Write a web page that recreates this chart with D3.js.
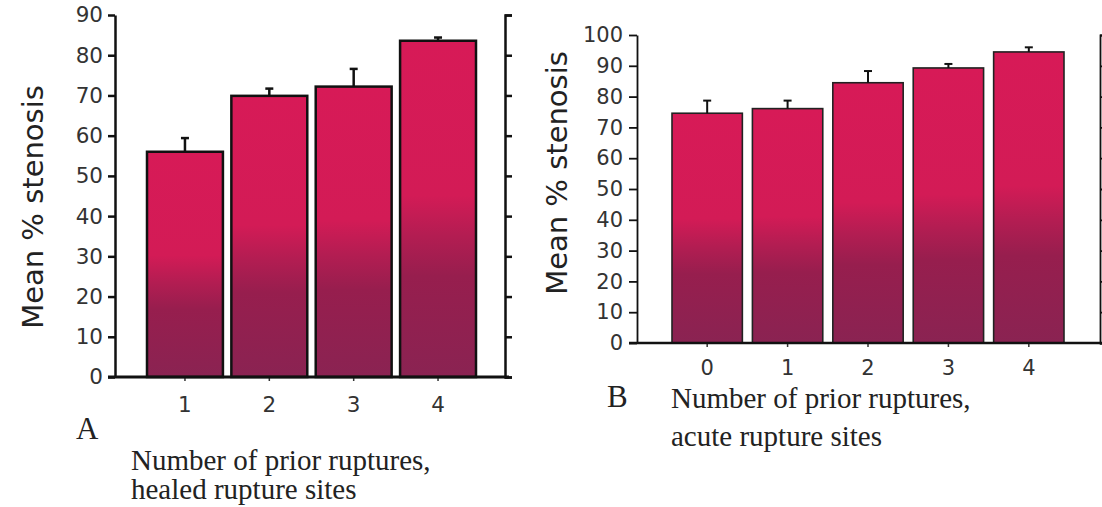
<!DOCTYPE html>
<html lang="en">
<head>
    <meta charset="UTF-8">
    <title>Mean % stenosis by number of prior ruptures</title>
    <style>
        body{
            margin:0;
            background:#fff;
        }
        svg{
            display:block;
        }
    </style>
    <script src="https://cdn.jsdelivr.net/npm/d3@7/dist/d3.min.js"></script>
</head>
<body>
</body>
<script>

var w = 1102;
var h = 507;

// panel A - healed rupture sites
var healedCats = ["1", "2", "3", "4"];
var healedMeans = [56.0, 69.9, 72.2, 83.6];
var healedSE = [3.4, 1.8, 4.4, 0.8];
var healedTicks = [0, 10, 20, 30, 40, 50, 60, 70, 80, 90];

// panel B - acute rupture sites
var acuteCats = ["0", "1", "2", "3", "4"];
var acuteMeans = [74.6, 76.1, 84.5, 89.3, 94.5];
var acuteSE = [4.1, 2.6, 3.8, 1.3, 1.5];
var acuteTicks = [0, 10, 20, 30, 40, 50, 60, 70, 80, 90, 100];

var svg = d3.select("body")
        .append("svg")
        .attr("width", w)
        .attr("height", h);

var defs = svg.append("defs");

function makeGradient(id) {
    var g = defs.append("linearGradient")
            .attr("id", id)
            .attr("x1", 0).attr("y1", 0)
            .attr("x2", 0).attr("y2", 1);
    var stops = [[0, "#d71a57"], [0.46, "#d31b56"], [0.58, "#b31d52"],
        [0.7, "#971e4e"], [1, "#8a2352"]];
    g.selectAll("stop")
            .data(stops)
            .enter()
            .append("stop")
            .attr("offset", function (d) { return d[0]; })
            .attr("stop-color", function (d) { return d[1]; });
}
makeGradient("barFill");

function drawPanel(opt) {
    var cats = opt.cats, means = opt.means, se = opt.se;
    var g = svg.append("g");

    var xScale = d3.scaleBand()
            .domain(cats)
            .range([opt.barLeft, opt.barRight])
            .paddingInner(opt.pad)
            .paddingOuter(0);

    var yScale = d3.scaleLinear()
            .domain([0, d3.max(opt.ticks)])
            .range([opt.y0, opt.yTop]);

    //bars
    g.selectAll("rect.bar")
            .data(means)
            .enter()
            .append("rect")
            .attr("class", "bar")
            .attr("x", function (d, i) { return xScale(cats[i]); })
            .attr("y", function (d) { return yScale(d); })
            .attr("width", xScale.bandwidth())
            .attr("height", function (d) { return yScale(0) - yScale(d); })
            .attr("fill", "url(#barFill)")
            .attr("stroke", opt.barStroke)
            .attr("stroke-width", opt.barStrokeW);

    //error bars (upper only)
    g.selectAll("line.err")
            .data(means)
            .enter()
            .append("line")
            .attr("class", "err")
            .attr("x1", function (d, i) { return xScale(cats[i]) + xScale.bandwidth() / 2; })
            .attr("x2", function (d, i) { return xScale(cats[i]) + xScale.bandwidth() / 2; })
            .attr("y1", function (d) { return yScale(d); })
            .attr("y2", function (d, i) { return yScale(d + se[i]); })
            .attr("stroke", "#111")
            .attr("stroke-width", opt.errW);

    g.selectAll("line.cap")
            .data(means)
            .enter()
            .append("line")
            .attr("class", "cap")
            .attr("x1", function (d, i) { return xScale(cats[i]) + xScale.bandwidth() / 2 - 4; })
            .attr("x2", function (d, i) { return xScale(cats[i]) + xScale.bandwidth() / 2 + 4; })
            .attr("y1", function (d, i) { return yScale(d + se[i]); })
            .attr("y2", function (d, i) { return yScale(d + se[i]); })
            .attr("stroke", "#111")
            .attr("stroke-width", opt.errW);

    //left axis
    var left = g.append("g")
            .attr("transform", "translate(" + opt.axisX + ",0)")
            .call(d3.axisLeft(yScale)
                    .tickValues(opt.ticks)
                    .tickSize(opt.tickLen)
                    .tickSizeOuter(0)
                    .tickPadding(opt.tickPad));
    left.select(".domain").attr("stroke", "#111").attr("stroke-width", opt.axisW);
    left.selectAll(".tick line").attr("stroke", "#111").attr("stroke-width", opt.axisW);
    left.selectAll(".tick text")
            .attr("font-family", "DejaVu Sans")
            .attr("font-size", opt.tickFont)
            .attr("fill", "#333");

    //right axis (no labels)
    var right = g.append("g")
            .attr("transform", "translate(" + opt.rightX + ",0)")
            .call(d3.axisRight(yScale)
                    .tickValues(opt.ticks)
                    .tickSize(7)
                    .tickSizeOuter(7)
                    .tickFormat(""));
    right.select(".domain").attr("stroke", "#111").attr("stroke-width", opt.axisW);
    right.selectAll(".tick line").attr("stroke", "#111").attr("stroke-width", opt.axisW);

    //bottom axis
    var bottom = g.append("g")
            .attr("transform", "translate(0," + yScale(0) + ")")
            .call(d3.axisBottom(xScale)
                    .tickSize(4)
                    .tickSizeOuter(0)
                    .tickPadding(opt.xLabPad));
    bottom.select(".domain").remove();
    bottom.selectAll(".tick line").attr("stroke", "#333").attr("stroke-width", 1.5);
    bottom.selectAll(".tick text")
            .attr("font-family", "DejaVu Sans")
            .attr("font-size", opt.tickFont)
            .attr("fill", "#333");

    g.append("line")
            .attr("x1", opt.axisX - opt.tickLen)
            .attr("x2", opt.lineEnd)
            .attr("y1", yScale(0))
            .attr("y2", yScale(0))
            .attr("stroke", "#111")
            .attr("stroke-width", opt.axisW + 0.5);

    //y title
    g.append("text")
            .text("Mean % stenosis")
            .attr("transform", "translate(" + opt.titleX + "," + opt.titleY + ") rotate(-90)")
            .attr("text-anchor", "middle")
            .attr("font-family", "DejaVu Sans")
            .attr("font-size", "29px")
            .attr("fill", "#222");

    //panel letter
    g.append("text")
            .text(opt.letter)
            .attr("x", opt.letterX)
            .attr("y", opt.letterY)
            .attr("font-family", "Liberation Serif")
            .attr("font-size", "31px")
            .attr("fill", "#222");

    //x caption in two lines
    g.selectAll("text.cap")
            .data(opt.caption)
            .enter()
            .append("text")
            .attr("class", "cap")
            .text(function (d) { return d; })
            .attr("x", opt.capX)
            .attr("y", function (d, i) { return opt.capY + i * opt.capGap; })
            .attr("font-family", "Liberation Serif")
            .attr("font-size", "29px")
            .attr("fill", "#222");
}

drawPanel({
    cats: healedCats, means: healedMeans, se: healedSE, ticks: healedTicks,
    barLeft: 147, barRight: 476, pad: 0.1,
    y0: 377, yTop: 15,
    axisX: 115, rightX: 505, lineEnd: 509,
    tickLen: 7, tickPad: 5, tickFont: "21.5px", xLabPad: 16,
    axisW: 2.5, barStroke: "#111", barStrokeW: 2.5, errW: 2.5,
    titleX: 43, titleY: 207,
    letter: "A", letterX: 76, letterY: 439,
    caption: ["Number of prior ruptures,", "healed rupture sites"],
    capX: 131, capY: 470, capGap: 29
});

drawPanel({
    cats: acuteCats, means: acuteMeans, se: acuteSE, ticks: acuteTicks,
    barLeft: 672, barRight: 1064, pad: 0.125,
    y0: 343, yTop: 35,
    axisX: 637, rightX: 1100, lineEnd: 1102,
    tickLen: 8, tickPad: 6, tickFont: "21px", xLabPad: 13,
    axisW: 1.8, barStroke: "#222", barStrokeW: 1.6, errW: 2,
    titleX: 567, titleY: 173,
    letter: "B", letterX: 607, letterY: 407,
    caption: ["Number of prior ruptures,", "acute rupture sites"],
    capX: 671, capY: 408, capGap: 38
});

</script>

</html>
